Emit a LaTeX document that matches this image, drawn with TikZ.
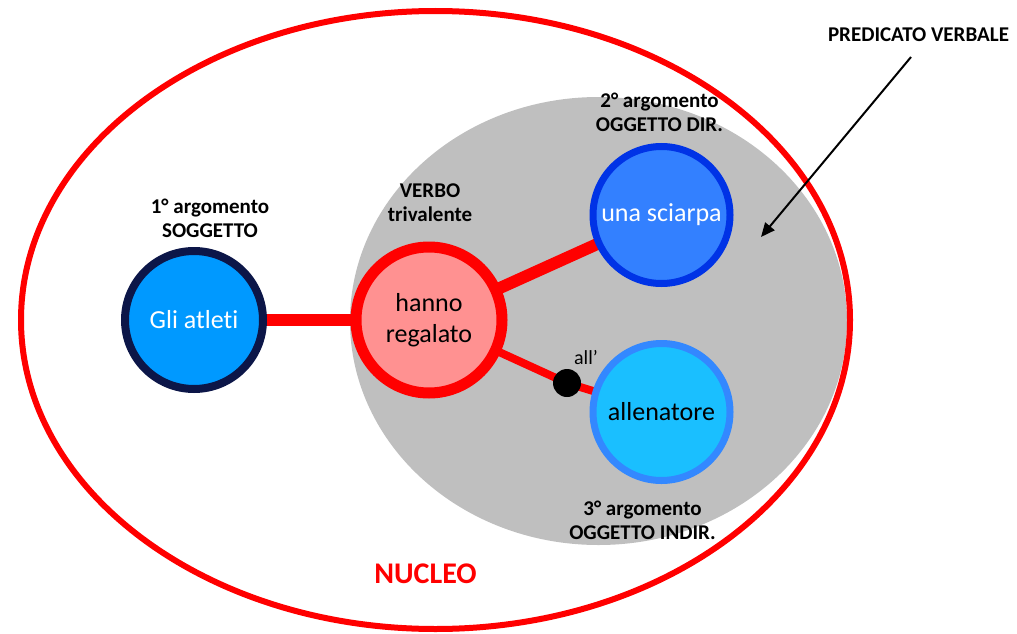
\documentclass[tikz,border=0pt]{standalone}
\usepackage{fontspec}
\setmainfont{Carlito}[Ligatures=NoCommon]
\usetikzlibrary{arrows.meta}

\definecolor{nucleored}{RGB}{255,0,0}
\definecolor{predgray}{RGB}{191,191,191}
\definecolor{subjfill}{RGB}{0,153,255}
\definecolor{subjline}{RGB}{12,22,72}
\definecolor{verbfill}{RGB}{255,145,145}
\definecolor{dirfill}{RGB}{51,128,255}
\definecolor{dirline}{RGB}{0,51,230}
\definecolor{indfill}{RGB}{26,191,255}
\definecolor{indline}{RGB}{51,136,255}

\pgfdeclarelayer{areas}
\pgfdeclarelayer{links}
\pgfsetlayers{areas,links,main}

\begin{document}
\begin{tikzpicture}[x=1pt,y=-1pt,
  lbl/.style={font=\fontsize{21}{24}\selectfont\bfseries, align=center, inner sep=0pt},
  word/.style={font=\fontsize{26}{31}\selectfont, align=center},
  ball/.style={circle, inner sep=0pt},
  link/.style={draw=nucleored, line width=12pt},
  thinlink/.style={draw=nucleored, line width=8pt}]
\useasboundingbox (0,0) rectangle (1017,634);

% nucleus and verbal predicate
\begin{pgfonlayer}{areas}
\fill[predgray] (598.5,321) ellipse [x radius=248.5pt, y radius=224pt];
\draw[nucleored, line width=6pt] (435.5,320) ellipse [x radius=414.5pt, y radius=309pt];
\end{pgfonlayer}

% argument and verb circles
\node[ball, minimum size=138pt, draw=subjline, line width=8pt, fill=subjfill,
      word, text=white] (subj) at (194,320) {Gli atleti};
\node[ball, minimum size=146pt, draw=nucleored, line width=11pt, fill=verbfill,
      word] (verb) at (429,320) {hanno\\regalato};
\node[ball, minimum size=137pt, draw=dirline, line width=7pt, fill=dirfill,
      word, text=white] (dir) at (661.5,215) {una sciarpa};
\node[ball, minimum size=137pt, draw=indline, line width=7pt, fill=indfill,
      word] (ind) at (661.5,412) {allenatore};
\node[ball, minimum size=28pt, fill=black] (prep) at (567,383) {};
\node[font=\fontsize{20}{24}\selectfont, anchor=base] (preplbl) at (586,364) {all’};

% valency links, kept under the circles
\begin{pgfonlayer}{links}
\draw[link] (subj.center) -- (verb.center);
\draw[link] (verb.center) -- (dir.center);
\draw[thinlink] (verb.center) -- (prep.center);
\draw[thinlink] (prep.center) -- (ind.center);
\end{pgfonlayer}

% labels
\node[lbl] (l1) at (210,218.5) {1° argomento\\SOGGETTO};
\node[lbl] (lv) at (430,203) {VERBO\\trivalente};
\node[lbl] (l2) at (659.5,112) {2° argomento\\OGGETTO DIR.};
\node[lbl] (l3) at (642.5,520) {3° argomento\\OGGETTO INDIR.};
\node[lbl, anchor=base] (pv) at (918.5,41.5) {PREDICATO VERBALE};
\node[font=\fontsize{30}{36}\selectfont\bfseries, text=nucleored, anchor=base] (nuc) at (425.5,583) {NUCLEO};

% pointer to the predicate
\coordinate (pvtip) at (761,237);
\draw[line width=2pt, -{Triangle[length=14pt, width=12pt]}] (911,57) -- (pvtip);
\end{tikzpicture}
\end{document}
